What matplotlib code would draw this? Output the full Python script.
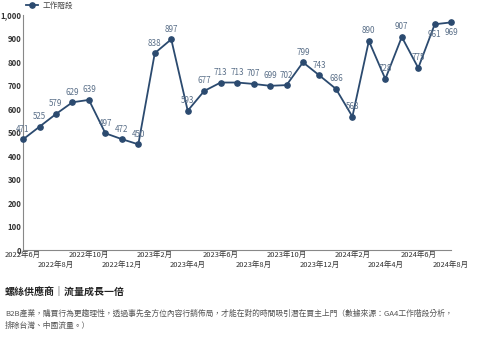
import matplotlib
matplotlib.use("Agg")
import matplotlib.pyplot as plt
from matplotlib.ticker import FuncFormatter

plt.rcParams['font.family'] = ['Noto Sans CJK TC', 'DejaVu Sans']

# Monthly sessions, 2022-06 .. 2024-08
months = ["2022年6月", "2022年7月", "2022年8月", "2022年9月", "2022年10月", "2022年11月",
          "2022年12月", "2023年1月", "2023年2月", "2023年3月", "2023年4月", "2023年5月",
          "2023年6月", "2023年7月", "2023年8月", "2023年9月", "2023年10月", "2023年11月",
          "2023年12月", "2024年1月", "2024年2月", "2024年3月", "2024年4月", "2024年5月",
          "2024年6月", "2024年7月", "2024年8月"]
sessions = [471, 525, 579, 629, 639, 497, 472, 450, 838, 897, 593, 677, 713, 713,
            707, 699, 702, 799, 743, 686, 568, 890, 728, 907, 775, 961, 969]
series_name = "工作階段"
title = "螺絲供應商｜流量成長一倍"
caption = ("B2B產業，購買行為更趨理性，透過事先全方位內容行銷佈局，才能在對的時間吸引潛在買主上門（數據來源：GA4工作階段分析，\n"
           "排除台灣、中國流量。）")

line_color = "#2b4a6f"
label_color = "#5b7089"

fig = plt.figure(figsize=(4.8, 3.43), dpi=100)
ax = fig.add_axes([0.048, 0.271, 0.892, 0.685])

x = list(range(len(months)))
ax.plot(x, sessions, color=line_color, lw=1.3, marker="o", ms=3.8, label=series_name,
        clip_on=False, zorder=3)
for xi, v in zip(x, sessions):
    # labels near the top edge go under the point
    if v > 950:
        ax.annotate(str(v), (xi, v), xytext=(0, -4), textcoords="offset points",
                    ha="center", va="top", fontsize=5.8, color=label_color)
    else:
        ax.annotate(str(v), (xi, v), xytext=(0, 4), textcoords="offset points",
                    ha="center", va="bottom", fontsize=5.8, color=label_color)

ax.set_xlim(0, len(months) - 1)
ax.set_ylim(0, 1000)
ax.set_yticks(range(0, 1001, 100))
ax.yaxis.set_major_formatter(FuncFormatter(lambda v, p: f"{int(v):,}"))

tick_pos = x[::2]
tick_lbl = [m if i % 2 == 0 else "\n" + m for i, m in enumerate(months[::2])]
ax.set_xticks(tick_pos)
ax.set_xticklabels(tick_lbl, fontsize=5.4, color="#333333", linespacing=1.2)
ax.tick_params(axis="x", length=0, pad=1)
ax.tick_params(axis="y", length=0, pad=1, labelsize=5.6, labelcolor="#333333")
for lbl in ax.get_yticklabels():
    lbl.set_fontweight("bold")

for s in ["top", "right"]:
    ax.spines[s].set_visible(False)
ax.spines["left"].set_color("#888888")
ax.spines["bottom"].set_color("#888888")
ax.spines["left"].set_linewidth(0.8)
ax.spines["bottom"].set_linewidth(0.8)

ax.legend(loc="upper left", bbox_to_anchor=(0.0, 1.07), frameon=False, fontsize=5.5,
          handlelength=1.6, handletextpad=0.5, borderaxespad=0, labelcolor="#444444")

fig.text(0.01, 0.149, title, fontsize=7.2, fontweight="bold", color="#222222", va="center")
fig.text(0.01, 0.068, caption, fontsize=5.6, color="#555555", va="center", linespacing=1.6)

fig.savefig("out.png", dpi=100, facecolor="white")
